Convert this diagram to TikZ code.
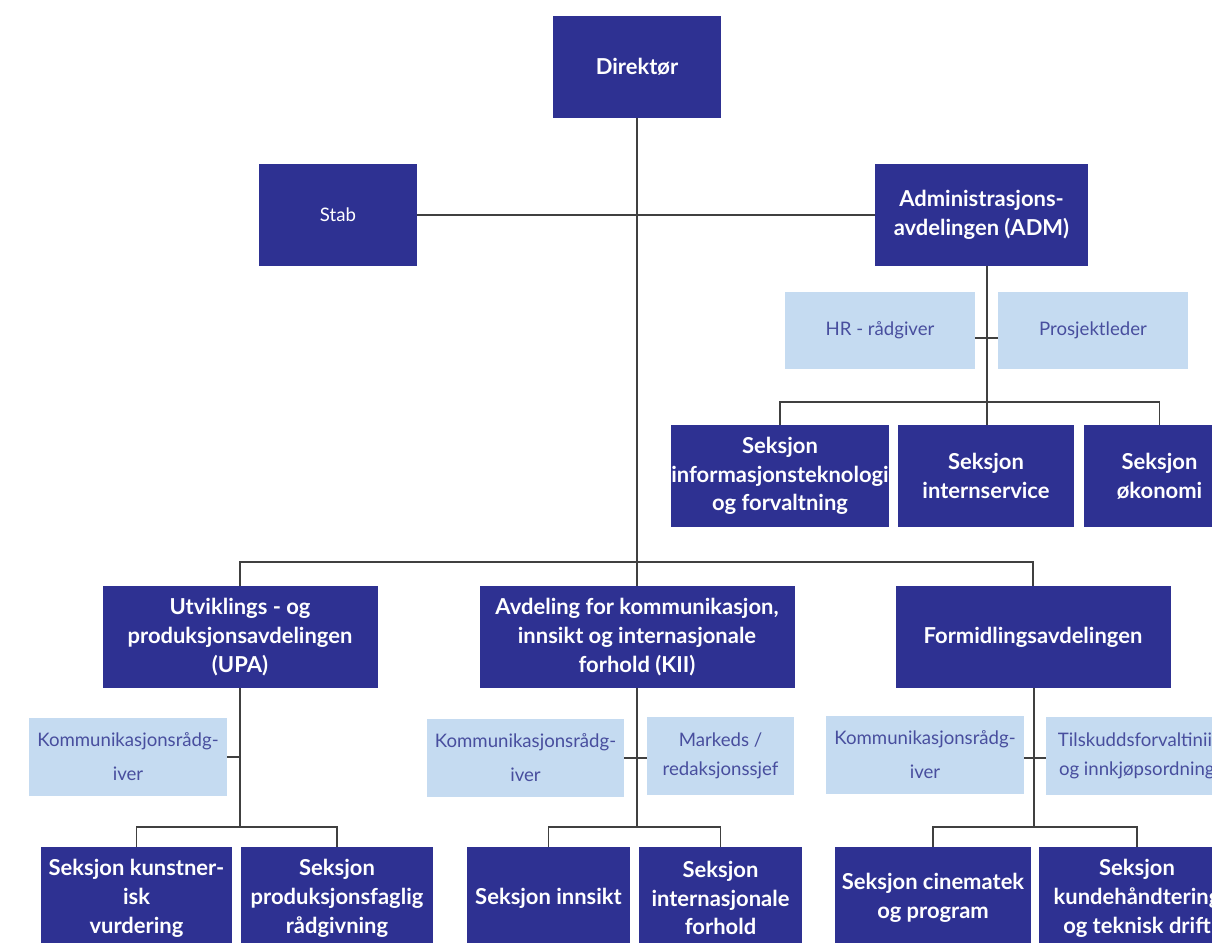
\documentclass[tikz,border=0pt]{standalone}
\usepackage{fontspec}
\setmainfont{Lato}
\usetikzlibrary{positioning}
\definecolor{orgblue}{RGB}{46,49,146}
\definecolor{staffblue}{RGB}{197,219,241}
\definecolor{stafftext}{RGB}{72,78,158}
\begin{document}
\begin{tikzpicture}[x=0.02cm,y=-0.02cm,
 sz/.style 2 args={minimum width=#1*0.02cm,minimum height=#2*0.02cm},
 unit/.style={fill=orgblue,text=white,align=center,inner sep=0pt,font=\bfseries\fontsize{12.5}{16.4}\selectfont},
 staff/.style={fill=staffblue,text=stafftext,align=center,inner sep=0pt,font=\fontsize{10.6}{16.4}\selectfont},
 link/.style={draw=black!75,line width=0.75pt}]
\useasboundingbox (0,0) rectangle (1212,942); \clip (0,0) rectangle (1212,942);

\node[unit,sz={168}{102}] (dir) at (637,67) {Direktør};
\node[unit,sz={158}{102},font=\fontsize{10.6}{12}\selectfont] (stab) at (338,215) {Stab};
\node[unit,sz={213}{102}] (adm) at (981.5,215) {Administrasjons-\\avdelingen (ADM)};
\node[staff,sz={190}{77}] (hr) at (880,330.5) {HR - rådgiver};
\node[staff,sz={190}{77}] (prosj) at (1093,330.5) {Prosjektleder};
\node[unit,sz={218}{102}] (it) at (780,476) {Seksjon\\informasjonsteknologi\\og forvaltning};
\node[unit,sz={176}{102}] (intern) at (986,476) {Seksjon\\internservice};
\node[unit,sz={151}{102}] (oko) at (1159.5,476) {Seksjon\\økonomi};

\node[unit,sz={275}{102}] (upa) at (240,637) {Utviklings - og\\produksjonsavdelingen\\(UPA)};
\node[unit,sz={315}{102}] (kii) at (637,637) {Avdeling for kommunikasjon,\\innsikt og internasjonale\\forhold (KII)};
\node[unit,sz={275}{102}] (form) at (1033,637) {Formidlingsavdelingen};

\node[staff,sz={198}{78}] (komupa) at (128,757) {Kommunikasjonsrådg-\\[3pt]iver};
\node[unit,sz={191}{102}] (kunst) at (136.5,898) {Seksjon kunstner-\\isk\\vurdering};
\node[unit,sz={192}{102}] (prod) at (337,898) {Seksjon\\produksjonsfaglig\\rådgivning};

\node[staff,sz={197}{78}] (komkii) at (525.5,758) {Kommunikasjonsrådg-\\[3pt]iver};
\node[staff,sz={147}{78}] (marked) at (720.5,756) {Markeds /\\redaksjonssjef};
\node[unit,sz={163}{102}] (innsikt) at (548.5,898) {Seksjon innsikt};
\node[unit,sz={163}{102}] (intl) at (720.5,898) {Seksjon\\internasjonale\\forhold};

\node[staff,sz={198}{78}] (komform) at (925,755) {Kommunikasjonsrådg-\\[3pt]iver};
\node[staff,sz={198}{78}] (tilsk) at (1145,756) {Tilskuddsforvaltiniing\\og innkjøpsordninger};
\node[unit,sz={196}{102}] (cine) at (933,898) {Seksjon cinematek\\og program};
\node[unit,sz={196}{102}] (kunde) at (1137,898) {Seksjon\\kundehåndtering\\og teknisk drift};

\coordinate (admbus) at (987,402); \coordinate (mainbus) at (637,562);
\coordinate (upabus) at (240,827); \coordinate (kiibus) at (637,827); \coordinate (formbus) at (1034,827);

\draw[link] (dir) -- (kii); \draw[link] (stab) -- (adm);
\draw[link] (adm.south -| admbus) -- (admbus); \draw[link] ([yshift=-0.15cm]hr.east) -- ([yshift=-0.15cm]hr.east -| prosj.west);
\draw[link] (it.north) |- (admbus) -| (oko.north); \draw[link] (admbus) -- (admbus |- intern.north);
\draw[link] (upa.north) |- (mainbus) -| (form.north);

\draw[link] (upa) -- (upabus); \draw[link] (komupa.east) -- (komupa.east -| upabus);
\draw[link] (kunst.north) |- (upabus) -| (prod.north);
\draw[link] (kii) -- (kiibus); \draw[link] (komkii.east |- 0,758) -- (marked.west |- 0,758);
\draw[link] (innsikt.north) |- (kiibus) -| (intl.north);
\draw[link] (form.south -| formbus) -- (formbus); \draw[link] (komform.east |- 0,758) -- (tilsk.west |- 0,758);
\draw[link] (cine.north) |- (formbus) -| (kunde.north);
\end{tikzpicture}
\end{document}
